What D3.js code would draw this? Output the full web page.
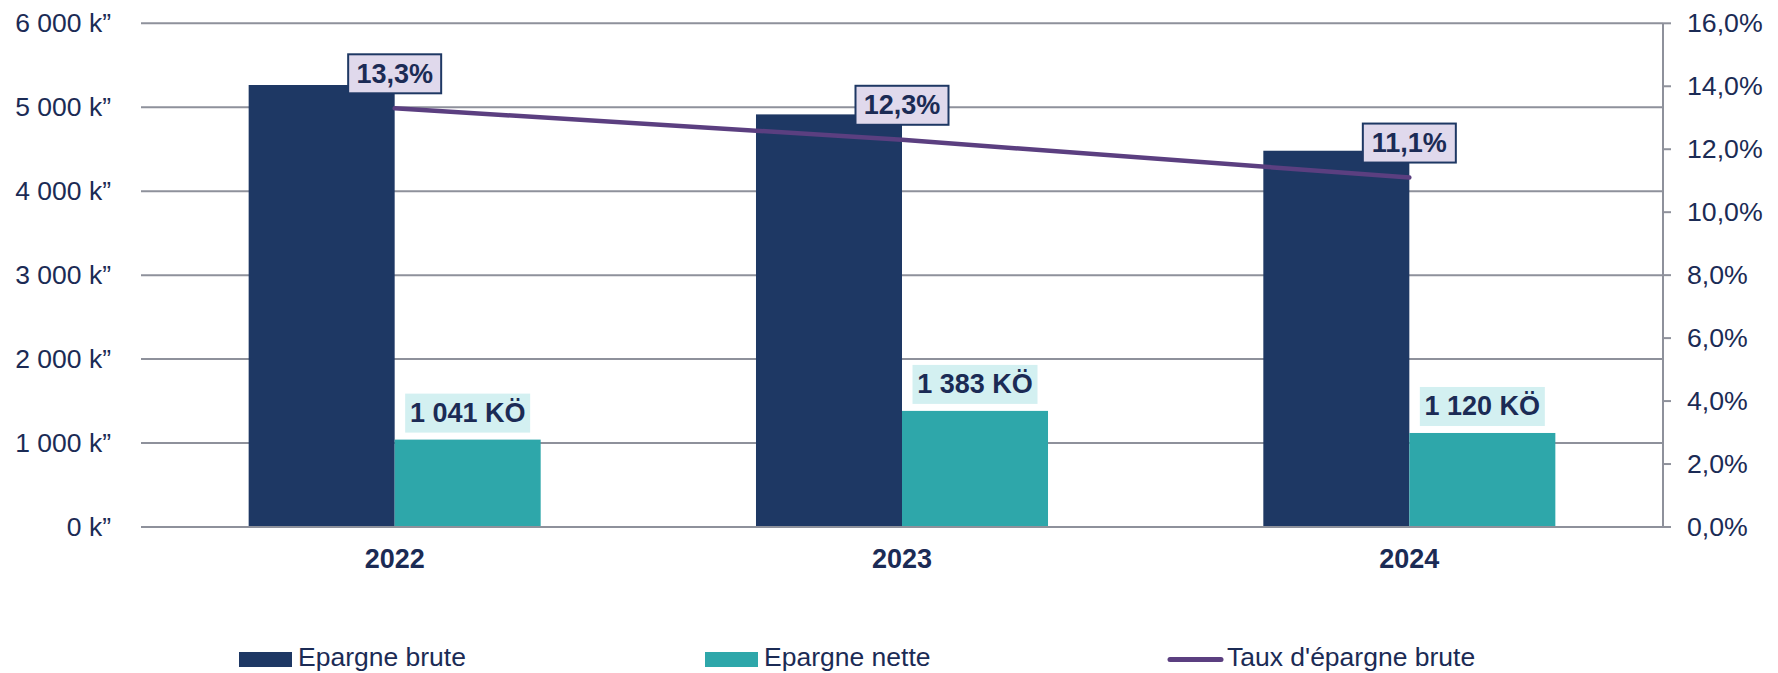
<!DOCTYPE html>
<html>
<head>
<meta charset="utf-8">
<script src="https://cdn.jsdelivr.net/npm/d3@7"></script>
<style>
  html, body { margin: 0; padding: 0; background: #ffffff; }
  svg { display: block; font-family: "Liberation Sans", Arial, sans-serif; }
</style>
</head>
<body>
<svg id="chart" width="1778" height="673"></svg>
<script>
// ---- data ----
const years = ["2022", "2023", "2024"];
const seriesNames = ["Epargne brute", "Epargne nette"];
const epargneBrute = [5265, 4915, 4482];
const epargneNette = [1041, 1383, 1120];
const tauxEpargne = [13.3, 12.3, 11.1];
const tauxLabels = ["13,3%", "12,3%", "11,1%"];
const netteLabels = ["1 041 KÖ", "1 383 KÖ", "1 120 KÖ"];
const leftTicks = [0, 1000, 2000, 3000, 4000, 5000, 6000];
const leftTickLabels = ["0 k”", "1 000 k”", "2 000 k”", "3 000 k”", "4 000 k”", "5 000 k”", "6 000 k”"];
const rightTicks = [0, 2, 4, 6, 8, 10, 12, 14, 16];
const rightTickLabels = ["0,0%", "2,0%", "4,0%", "6,0%", "8,0%", "10,0%", "12,0%", "14,0%", "16,0%"];
const legendItems = ["Epargne brute", "Epargne nette", "Taux d'épargne brute"];

// ---- styles ----
const C_BRUTE = "#1e3864";
const C_NETTE = "#2ea7aa";
const C_LINE = "#5b3f80";
const C_TEXT = "#1b2b55";
const C_GRID = "#8e919b";

const svg = d3.select("#chart");
const plotLeft = 141, plotRight = 1663, plotTop = 23.3, plotBottom = 527;

const x0 = d3.scaleBand().domain(years).range([plotLeft, plotRight])
  .paddingInner(0.4244).paddingOuter(0.2122);
const x1 = d3.scaleBand().domain(seriesNames).range([0, x0.bandwidth()]);
const yL = d3.scaleLinear().domain([0, 6000]).range([plotBottom, plotTop]);
const yR = d3.scaleLinear().domain([0, 16]).range([plotBottom, plotTop]);

// gridlines
const grid = svg.append("g");
grid.selectAll("line").data(leftTicks).join("line")
  .attr("x1", plotLeft).attr("x2", plotRight)
  .attr("y1", d => yL(d)).attr("y2", d => yL(d))
  .attr("stroke", C_GRID).attr("stroke-width", 2);

// left tick labels
svg.append("g").selectAll("text").data(leftTicks).join("text")
  .attr("x", 111).attr("y", d => yL(d))
  .attr("text-anchor", "end").attr("dominant-baseline", "central")
  .attr("font-size", "26.5px").attr("fill", C_TEXT)
  .text((d, i) => leftTickLabels[i]);

// right axis
const rAxis = svg.append("g");
rAxis.append("line")
  .attr("x1", plotRight).attr("x2", plotRight)
  .attr("y1", yR(16)).attr("y2", yR(0))
  .attr("stroke", C_GRID).attr("stroke-width", 2);
rAxis.selectAll("line.tick").data(rightTicks).join("line").attr("class", "tick")
  .attr("x1", plotRight).attr("x2", plotRight + 8)
  .attr("y1", d => yR(d)).attr("y2", d => yR(d))
  .attr("stroke", C_GRID).attr("stroke-width", 2);
rAxis.selectAll("text").data(rightTicks).join("text")
  .attr("x", 1687).attr("y", d => yR(d))
  .attr("dominant-baseline", "central")
  .attr("font-size", "26.7px").attr("fill", C_TEXT)
  .text((d, i) => rightTickLabels[i]);

// bars
const groups = svg.append("g").selectAll("g").data(years).join("g")
  .attr("transform", d => `translate(${x0(d)},0)`);
groups.append("rect")
  .attr("x", x1("Epargne brute")).attr("width", x1.bandwidth())
  .attr("y", (d, i) => yL(epargneBrute[i]))
  .attr("height", (d, i) => yL(0) - yL(epargneBrute[i]))
  .attr("fill", C_BRUTE);
groups.append("rect")
  .attr("x", x1("Epargne nette")).attr("width", x1.bandwidth())
  .attr("y", (d, i) => yL(epargneNette[i]))
  .attr("height", (d, i) => yL(0) - yL(epargneNette[i]))
  .attr("fill", C_NETTE);

// baseline redraw
svg.append("line")
  .attr("x1", plotLeft).attr("x2", plotRight)
  .attr("y1", yL(0)).attr("y2", yL(0))
  .attr("stroke", C_GRID).attr("stroke-width", 2);

// net labels
const netW = 125, netH = 39;
const netLbl = svg.append("g").selectAll("g").data(years).join("g");
netLbl.append("rect")
  .attr("x", (d) => x0(d) + x1("Epargne nette") + x1.bandwidth() / 2 - netW / 2)
  .attr("y", (d, i) => yL(epargneNette[i]) - 7 - netH)
  .attr("width", netW).attr("height", netH)
  .attr("fill", "#d3f0f1");
netLbl.append("text")
  .attr("x", (d) => x0(d) + x1("Epargne nette") + x1.bandwidth() / 2)
  .attr("y", (d, i) => yL(epargneNette[i]) - 7 - netH / 2)
  .attr("text-anchor", "middle").attr("dominant-baseline", "central")
  .attr("font-size", "27px").attr("font-weight", "bold").attr("fill", C_TEXT)
  .text((d, i) => netteLabels[i]);

// line
const lx = d => x0(d) + x0.bandwidth() / 2;
const line = d3.line().x((d, i) => lx(years[i])).y(d => yR(d));
svg.append("path").datum(tauxEpargne)
  .attr("d", line).attr("fill", "none")
  .attr("stroke", C_LINE).attr("stroke-width", 4.5)
  .attr("stroke-linecap", "round");

// pct labels
const pW = 93, pH = 39;
const pLbl = svg.append("g").selectAll("g").data(years).join("g");
pLbl.append("rect")
  .attr("x", d => lx(d) - pW / 2)
  .attr("y", (d, i) => yR(tauxEpargne[i]) - 15 - pH)
  .attr("width", pW).attr("height", pH)
  .attr("fill", "#e0d9ec").attr("stroke", C_BRUTE).attr("stroke-width", 2);
pLbl.append("text")
  .attr("x", d => lx(d))
  .attr("y", (d, i) => yR(tauxEpargne[i]) - 15 - pH / 2)
  .attr("text-anchor", "middle").attr("dominant-baseline", "central")
  .attr("font-size", "27px").attr("font-weight", "bold").attr("fill", C_TEXT)
  .text((d, i) => tauxLabels[i]);

// category labels
svg.append("g").selectAll("text").data(years).join("text")
  .attr("x", d => lx(d)).attr("y", 568)
  .attr("text-anchor", "middle")
  .attr("font-size", "27px").attr("font-weight", "bold").attr("fill", C_TEXT)
  .text(d => d);

// legend
const legX = [239, 705, 1168];
const leg = svg.append("g");
leg.append("rect").attr("x", legX[0]).attr("y", 652).attr("width", 53).attr("height", 15).attr("fill", C_BRUTE);
leg.append("rect").attr("x", legX[1]).attr("y", 652).attr("width", 53).attr("height", 15).attr("fill", C_NETTE);
leg.append("line").attr("x1", legX[2] + 2).attr("x2", legX[2] + 53).attr("y1", 659.5).attr("y2", 659.5)
  .attr("stroke", C_LINE).attr("stroke-width", 5).attr("stroke-linecap", "round");
leg.selectAll("text").data(legendItems).join("text")
  .attr("x", (d, i) => legX[i] + 59).attr("y", 666)
  .attr("font-size", "26.5px").attr("fill", C_TEXT)
  .text(d => d);
</script>
</body>
</html>
